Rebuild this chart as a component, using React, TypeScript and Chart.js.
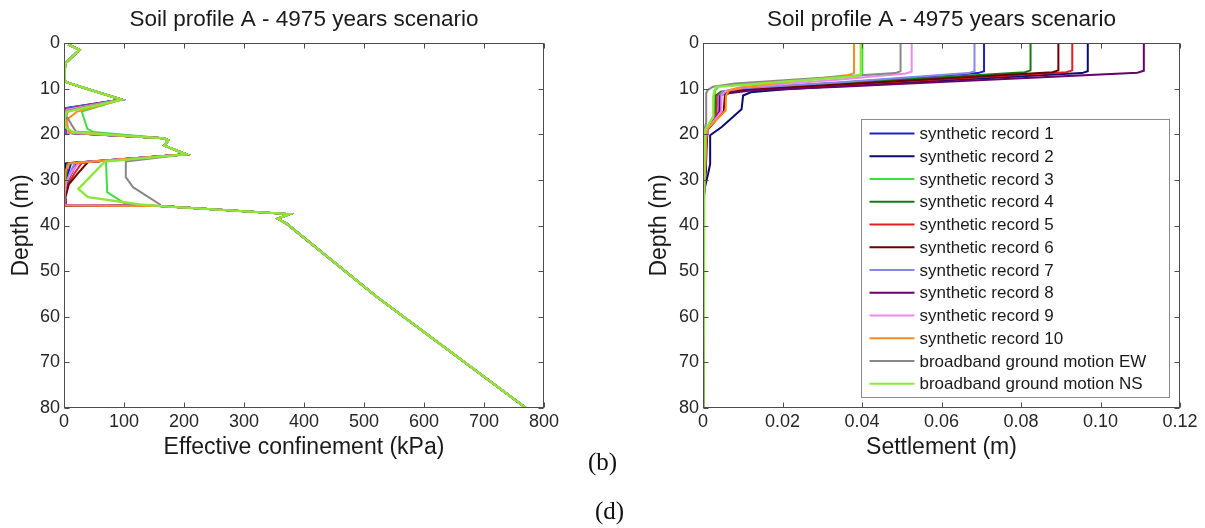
import React, { useEffect, useRef } from "react";
import { Chart, registerables } from "chart.js";

Chart.register(...registerables);

type P = [number, number];

const FONT = '"Liberation Sans", Arial, Helvetica, sans-serif';
const chartTitle = "Soil profile A - 4975 years scenario";

const seriesNames = [
  "synthetic record 1",
  "synthetic record 2",
  "synthetic record 3",
  "synthetic record 4",
  "synthetic record 5",
  "synthetic record 6",
  "synthetic record 7",
  "synthetic record 8",
  "synthetic record 9",
  "synthetic record 10",
  "broadband ground motion EW",
  "broadband ground motion NS",
];

const seriesColors = [
  "#1f1fc8",
  "#0a0a70",
  "#3ee03e",
  "#137a13",
  "#e02020",
  "#700000",
  "#8585ee",
  "#6a006a",
  "#ee88ee",
  "#ff8c1a",
  "#888888",
  "#8ee63a",
];

// ---------- Effective confinement (kPa) vs depth (m): [kPa, depth] ----------
const confTop: P[] = [[7, 0.3], [26, 1.5], [2, 4.5], [1, 8.1], [4, 8.6], [30, 9.7], [96, 12.4]];

// liquefiable layer 12.4 m - 19.8 m, one list per record
const confLayerA: P[][] = [
  [[2, 14.3], [0, 15.2], [1, 17.5], [3, 19.6]],
  [[1, 14.4], [0, 16.2], [1, 18.8], [3, 19.7]],
  [[29.5, 15], [39, 18.8], [49, 19.5]],
  [[3, 14.5], [1, 16], [2, 18.5], [4, 19.7]],
  [[4, 14.6], [2, 16.5], [5, 18.8], [6, 19.6]],
  [[5, 14.6], [3, 16.3], [6, 19], [7, 19.7]],
  [[2, 14.4], [1, 16.8], [3, 19.2], [4, 19.7]],
  [[3, 14.5], [1, 16.4], [4, 19], [5, 19.7]],
  [[4, 14.6], [2, 16.6], [6, 19.1], [6, 19.7]],
  [[21, 15.1], [4.5, 16.8], [6.5, 18.6], [10, 19.6]],
  [[6, 14.8], [4, 16], [13, 18], [20, 19.4]],
  [[5, 15.1], [1, 16.5], [2, 18.4], [15, 19.5]],
];

const confMid: P[] = [[166, 20.9], [174, 21.3], [167, 22.5], [204, 24.4]];

// liquefiable layer 24.4 m - 35.7 m, one list per record
const confLayerB: P[][] = [
  [[12, 26.3], [8, 28], [3, 30], [1, 33], [0, 35.5]],
  [[2, 26.4], [1, 29], [0, 33], [0, 35.6]],
  [[70, 25.9], [72, 32.7], [104, 35.4]],
  [[6, 26.4], [4, 29], [1, 32], [0, 35.5]],
  [[30, 26.2], [18, 28.5], [6, 31], [1, 33.5], [2, 35.6]],
  [[40, 26.1], [25, 28.3], [8, 31], [2, 34], [3, 35.6]],
  [[18, 26.3], [10, 28.5], [3, 31], [0, 35.5]],
  [[22, 26.3], [15, 28], [5, 30.5], [1, 33], [0, 35.5]],
  [[25, 26.2], [14, 28], [4, 30.5], [0, 34], [1, 35.5]],
  [[8, 26.4], [3, 28], [1, 32], [0, 35.6]],
  [[103, 26.0], [103, 29.4], [115, 31.6], [160, 35.4]],
  [[68, 26.0], [24, 32], [40, 33.8], [127, 35.4]],
];

const confDeep: P[] = [[160, 35.75], [376, 37.5], [356, 38.5], [371, 39.6], [520, 55.5], [770, 80]];

// ---------- Settlement (m) vs depth (m): [settlement, depth] ----------
const settlement: P[][] = [
  [[0.0707, 0.2], [0.0707, 6.2], [0.0692, 6.6], [0.0345, 8.7], [0.01, 9.9], [0.0055, 10.6], [0.0045, 11.5], [0.0043, 15.0], [0.0009, 19.0], [0.0008, 21.0], [0.0006, 28.0], [0.0002, 34.0], [0.0001, 42.0], [0, 80]],
  [[0.0968, 0.2], [0.0968, 6.2], [0.0953, 6.6], [0.0345, 9.4], [0.02, 10.2], [0.012, 10.8], [0.0101, 11.5], [0.0097, 14.5], [0.0047, 18.4], [0.0018, 20.2], [0.0018, 26.5], [0.0013, 28.6], [0.0003, 32.3], [0.0001, 40.0], [0, 80]],
  [[0.0401, 0.2], [0.0401, 6.8], [0.0388, 7.2], [0.004, 9.5], [0.0031, 10.4], [0.0029, 11.8], [0.0029, 16.0], [0.0006, 19.0], [0.0004, 26.0], [0.0002, 34.0], [0.0001, 45.0], [0, 80]],
  [[0.0824, 0.2], [0.0824, 6.0], [0.081, 6.4], [0.0345, 8.9], [0.01, 10.0], [0.0045, 10.7], [0.0032, 11.5], [0.003, 15.5], [0.0006, 19.3], [0.0005, 26.0], [0.0002, 33.0], [0.0001, 42.0], [0, 80]],
  [[0.0929, 0.2], [0.0929, 6.0], [0.0914, 6.4], [0.0345, 9.2], [0.01, 10.3], [0.005, 10.9], [0.0036, 11.5], [0.0034, 15.3], [0.0008, 19.2], [0.0007, 21.0], [0.0005, 28.0], [0.0002, 34.0], [0, 45.0], [0, 80]],
  [[0.0894, 0.2], [0.0894, 6.0], [0.0879, 6.4], [0.0345, 9.1], [0.011, 10.2], [0.0065, 10.9], [0.0055, 11.6], [0.0052, 15.0], [0.0012, 19.0], [0.001, 21.0], [0.0007, 28.0], [0.0002, 34.0], [0.0001, 42.0], [0, 80]],
  [[0.0683, 0.2], [0.0683, 6.2], [0.0668, 6.6], [0.0345, 8.6], [0.01, 9.9], [0.005, 10.6], [0.004, 11.6], [0.0039, 15.2], [0.0008, 19.2], [0.0007, 21.0], [0.0005, 28.0], [0.0002, 34.0], [0, 44.0], [0, 80]],
  [[0.1109, 0.2], [0.1109, 6.1], [0.1093, 6.5], [0.0345, 9.6], [0.012, 10.4], [0.0055, 11.1], [0.0043, 11.6], [0.0042, 15.0], [0.001, 19.0], [0.0008, 21.0], [0.0006, 28.0], [0.0002, 34.0], [0.0001, 42.0], [0, 80]],
  [[0.0525, 0.2], [0.0525, 6.3], [0.051, 6.7], [0.0345, 8.0], [0.01, 9.7], [0.006, 10.4], [0.0047, 11.4], [0.0046, 15.0], [0.001, 19.0], [0.0008, 21.0], [0.0005, 28.0], [0.0002, 34.0], [0, 44.0], [0, 80]],
  [[0.038, 0.2], [0.038, 6.6], [0.0366, 7.0], [0.009, 9.8], [0.0065, 10.4], [0.0058, 11.5], [0.0057, 14.8], [0.0013, 18.7], [0.0008, 20.5], [0.0005, 28.0], [0.0001, 35.0], [0, 45.0], [0, 80]],
  [[0.0497, 0.2], [0.0497, 6.2], [0.0484, 6.6], [0.008, 8.9], [0.0025, 9.6], [0.0012, 10.3], [0.0008, 11.0], [0.0008, 17.5], [0.0003, 19.2], [0.0002, 30.0], [0.0001, 45.0], [0, 80]],
  [[0.0397, 0.2], [0.0397, 6.9], [0.0383, 7.3], [0.0034, 9.6], [0.0028, 10.6], [0.0026, 11.8], [0.0026, 16.2], [0.0005, 19.1], [0.0003, 30.0], [0.0002, 60.0], [0.0001, 80]],
];

const toXY = (pts: P[]) => pts.map(([x, y]) => ({ x, y }));

const framePlugin = {
  id: "matlabFrame",
  afterDraw(chart: any) {
    const { ctx, chartArea: a, scales } = chart;
    const xs = scales.x;
    const ys = scales.y;
    const L = Math.round(a.left) + 0.5;
    const R = Math.round(a.right) - 0.5;
    const T = Math.round(a.top) + 0.5;
    const B = Math.round(a.bottom) - 0.5;
    ctx.save();
    ctx.strokeStyle = "#4d4d4d";
    ctx.lineWidth = 1;
    ctx.strokeRect(L, T, R - L, B - T);
    ctx.beginPath();
    xs.ticks.forEach((t: any) => {
      const px = Math.round(xs.getPixelForValue(t.value)) + 0.5;
      ctx.moveTo(px, B);
      ctx.lineTo(px, B - 5);
      ctx.moveTo(px, T);
      ctx.lineTo(px, T + 5);
    });
    ys.ticks.forEach((t: any) => {
      const py = Math.round(ys.getPixelForValue(t.value)) + 0.5;
      ctx.moveTo(L, py);
      ctx.lineTo(L + 5, py);
      ctx.moveTo(R, py);
      ctx.lineTo(R - 5, py);
    });
    ctx.stroke();
    ctx.restore();
  },
};

const boxLegendPlugin = {
  id: "boxLegend",
  afterDraw(chart: any) {
    const { ctx, chartArea: a } = chart;
    const left = Math.round(a.left + 158) + 0.5;
    const top = Math.round(a.top + 76) + 0.5;
    const w = 308;
    const h = 278;
    ctx.save();
    ctx.fillStyle = "#ffffff";
    ctx.fillRect(left, top, w, h);
    ctx.strokeStyle = "#8c8c8c";
    ctx.lineWidth = 1;
    ctx.strokeRect(left, top, w, h);
    ctx.font = `17px ${FONT}`;
    ctx.textBaseline = "middle";
    ctx.textAlign = "left";
    chart.data.datasets.forEach((ds: any, i: number) => {
      const yy = top + 14 + i * 22.75;
      ctx.strokeStyle = ds.borderColor;
      ctx.lineWidth = 2;
      ctx.beginPath();
      ctx.moveTo(left + 8, yy);
      ctx.lineTo(left + 53, yy);
      ctx.stroke();
      ctx.fillStyle = "#1a1a1a";
      ctx.fillText(ds.label, left + 58, yy + 1);
    });
    ctx.restore();
  },
};

function makeOptions(cfg: {
  xMax: number;
  xStep: number;
  xTitle: string;
  yWidth: number;
  yTitlePad: number;
  rightPad: number;
}) {
  return {
    responsive: false,
    animation: false as const,
    events: [] as any[],
    layout: { padding: { left: 0, right: cfg.rightPad, top: 0, bottom: 0 } },
    plugins: {
      legend: { display: false },
      tooltip: { enabled: false },
      title: {
        display: true,
        text: chartTitle,
        fullSize: false,
        color: "#1a1a1a",
        font: { family: FONT, size: 22.5, weight: "normal" as const },
        padding: { top: 6.5, bottom: 9.5 },
      },
    },
    scales: {
      x: {
        type: "linear" as const,
        min: 0,
        max: cfg.xMax,
        grid: { display: false, drawTicks: false },
        border: { display: false },
        ticks: {
          stepSize: cfg.xStep,
          color: "#262626",
          font: { family: FONT, size: 18 },
          padding: 3,
          maxRotation: 0,
          autoSkip: false,
        },
        title: {
          display: true,
          text: cfg.xTitle,
          color: "#1a1a1a",
          font: { family: FONT, size: 23 },
          padding: { top: 0, bottom: 67 },
        },
        afterFit: (s: any) => {
          s.height = 120;
        },
      },
      y: {
        type: "linear" as const,
        min: 0,
        max: 80,
        reverse: true,
        grid: { display: false, drawTicks: false },
        border: { display: false },
        ticks: {
          stepSize: 10,
          color: "#262626",
          font: { family: FONT, size: 18 },
          padding: 4,
        },
        title: {
          display: true,
          text: "Depth (m)",
          color: "#1a1a1a",
          font: { family: FONT, size: 23 },
          padding: { top: cfg.yTitlePad, bottom: 0 },
        },
        afterFit: (s: any) => {
          s.width = cfg.yWidth;
        },
      },
    },
  };
}

function ChartCanvas({ kind, width }: { kind: "conf" | "settle"; width: number }) {
  const ref = useRef<HTMLCanvasElement | null>(null);
  useEffect(() => {
    if (!ref.current) return;
    const n = seriesNames.length;
    const datasets = seriesNames.map((name, i) => {
      const pts =
        kind === "conf"
          ? [...confTop, ...confLayerA[i], ...confMid, ...confLayerB[i], ...confDeep]
          : settlement[i];
      return {
        label: name,
        data: toXY(pts),
        borderColor: seriesColors[i],
        backgroundColor: seriesColors[i],
        borderWidth: i === n - 1 ? 2.4 : 2,
        showLine: true,
        pointRadius: 0,
        fill: false,
        tension: 0,
        order: n - i,
      };
    });
    const options =
      kind === "conf"
        ? makeOptions({ xMax: 800, xStep: 100, xTitle: "Effective confinement (kPa)", yWidth: 64, yTitlePad: 8, rightPad: 56 })
        : makeOptions({ xMax: 0.12, xStep: 0.02, xTitle: "Settlement (m)", yWidth: 103, yTitlePad: 46, rightPad: 25 });
    const chart = new Chart(ref.current, {
      type: "scatter",
      data: { datasets },
      options: options as any,
      plugins: kind === "conf" ? [framePlugin] : [framePlugin, boxLegendPlugin],
    });
    return () => chart.destroy();
  }, [kind]);
  return <canvas ref={ref} width={width} height={528} style={{ display: "block", width, height: 528 }} />;
}

export default function App() {
  return (
    <div style={{ position: "absolute", left: 0, top: 0, width: 1205, height: 528, background: "#fff", overflow: "hidden" }}>
      <div style={{ position: "absolute", left: 0, top: 0 }}>
        <ChartCanvas kind="conf" width={600} />
      </div>
      <div style={{ position: "absolute", left: 600, top: 0 }}>
        <ChartCanvas kind="settle" width={605} />
      </div>
      <div style={{ position: "absolute", left: 588, top: 449, fontFamily: '"Liberation Serif", "Times New Roman", serif', fontSize: 25, lineHeight: "25px", color: "#111" }}>
        (b)
      </div>
      <div style={{ position: "absolute", left: 595, top: 498, fontFamily: '"Liberation Serif", "Times New Roman", serif', fontSize: 25, lineHeight: "25px", color: "#111" }}>
        (d)
      </div>
    </div>
  );
}
